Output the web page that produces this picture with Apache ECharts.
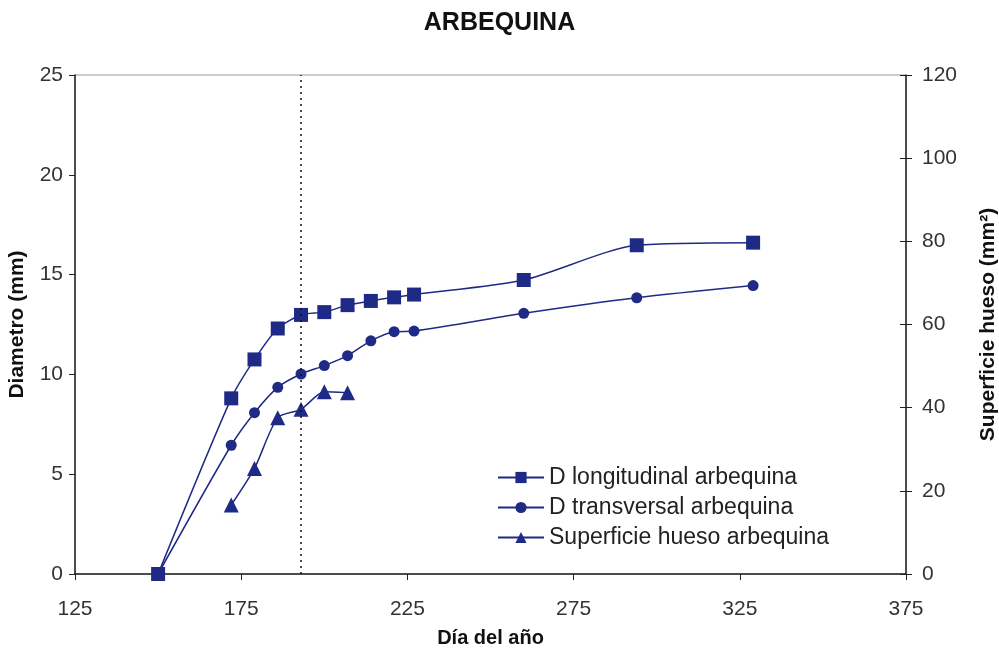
<!DOCTYPE html>
<html>
<head>
<meta charset="utf-8">
<script src="https://cdn.jsdelivr.net/npm/echarts@6/dist/echarts.min.js"></script>
<style>
html,body{margin:0;padding:0;background:#fff;}
#chart{width:999px;height:652px;}
</style>
</head>
<body>
<div id="chart"></div>
<script>
// Data
const seriesNames = ['D longitudinal arbequina', 'D transversal arbequina', 'Superficie hueso arbequina'];
const daysDiam = [150, 172, 179, 186, 193, 200, 207, 214, 221, 227, 260, 294, 329];
const dLongitudinal = [0, 8.8, 10.75, 12.3, 12.98, 13.12, 13.47, 13.68, 13.86, 14.0, 14.73, 16.47, 16.6];
const dTransversal = [0, 6.45, 8.08, 9.35, 10.02, 10.44, 10.94, 11.68, 12.14, 12.17, 13.06, 13.84, 14.45];
const daysHueso = [172, 179, 186, 193, 200, 207];
const superficieHueso = [16.6, 25.4, 37.6, 39.6, 43.8, 43.6];
const markerDay = 193;
const xTicks = [125, 175, 225, 275, 325, 375];

const color = '#1f2a86';
const pairs = (xs, ys) => xs.map((x, i) => [x, ys[i]]);
const font = 'Liberation Sans, Arial, sans-serif';
const labelStyle = {fontFamily: font, fontSize: 21, color: '#333'};

const chart = echarts.init(document.getElementById('chart'));
chart.setOption({
  backgroundColor: '#ffffff',
  animation: false,
  title: {
    text: 'ARBEQUINA', left: 'center', top: 6,
    textStyle: {fontFamily: font, fontSize: 25, fontWeight: 'bold', color: '#111'}
  },
  grid: {left: 75, right: 93, top: 75, bottom: 78, containLabel: false, outerBoundsMode: 'none',
         show: true, borderColor: '#999', borderWidth: 1, backgroundColor: 'transparent'},
  legend: {
    orient: 'vertical', left: 492, top: 461, itemGap: 7, itemWidth: 46, itemHeight: 14,
    data: seriesNames,
    textStyle: {fontFamily: font, fontSize: 23, color: '#222'}
  },
  xAxis: {
    type: 'value', min: xTicks[0], max: xTicks[xTicks.length - 1], interval: 50,
    name: 'Día del año', nameLocation: 'middle', nameGap: 54,
    nameTextStyle: {fontFamily: font, fontSize: 20, fontWeight: 'bold', color: '#111'},
    axisLine: {lineStyle: {color: '#222', width: 1.5}},
    axisTick: {show: true, inside: false, length: 6, lineStyle: {color: '#222'}},
    axisLabel: Object.assign({margin: 25}, labelStyle),
    splitLine: {show: false}
  },
  yAxis: [{
    type: 'value', min: 0, max: 25, interval: 5, position: 'left',
    name: 'Diametro (mm)', nameLocation: 'middle', nameGap: 47,
    nameTextStyle: {fontFamily: font, fontSize: 21, fontWeight: 'bold', color: '#111'},
    axisLine: {show: true, lineStyle: {color: '#222', width: 1.5}},
    axisTick: {show: true, length: 6, lineStyle: {color: '#222'}},
    axisLabel: Object.assign({margin: 12}, labelStyle),
    splitLine: {show: false}
  }, {
    type: 'value', min: 0, max: 120, interval: 20, position: 'right',
    name: 'Superficie hueso (mm²)', nameLocation: 'middle', nameGap: 72,
    nameTextStyle: {fontFamily: font, fontSize: 21, fontWeight: 'bold', color: '#111'},
    axisLine: {show: true, lineStyle: {color: '#222', width: 1.5}},
    axisTick: {show: true, length: 6, lineStyle: {color: '#222'}},
    axisLabel: Object.assign({margin: 16}, labelStyle),
    splitLine: {show: false}
  }, {
    type: 'value', min: 0, max: 120, interval: 20, position: 'right',
    axisLine: {show: false},
    axisTick: {show: true, inside: true, length: 6, lineStyle: {color: '#222'}},
    axisLabel: {show: false},
    splitLine: {show: false}
  }],
  series: [{
    name: seriesNames[0], type: 'line', smooth: 0.25, yAxisIndex: 0,
    data: pairs(daysDiam, dLongitudinal),
    symbol: 'rect', symbolSize: 14,
    itemStyle: {color: color}, lineStyle: {color: color, width: 1.5},
    markLine: {
      silent: true, symbol: 'none', label: {show: false},
      lineStyle: {color: '#111', type: [2, 4], width: 1.5},
      data: [{xAxis: markerDay}]
    }
  }, {
    name: seriesNames[1], type: 'line', smooth: 0.25, yAxisIndex: 0,
    data: pairs(daysDiam, dTransversal),
    symbol: 'circle', symbolSize: 11,
    itemStyle: {color: color}, lineStyle: {color: color, width: 1.5}
  }, {
    name: seriesNames[2], type: 'line', smooth: 0.25, yAxisIndex: 1,
    data: pairs(daysHueso, superficieHueso),
    symbol: 'triangle', symbolSize: 15,
    itemStyle: {color: color}, lineStyle: {color: color, width: 1.5}
  }]
});
</script>
</body>
</html>
